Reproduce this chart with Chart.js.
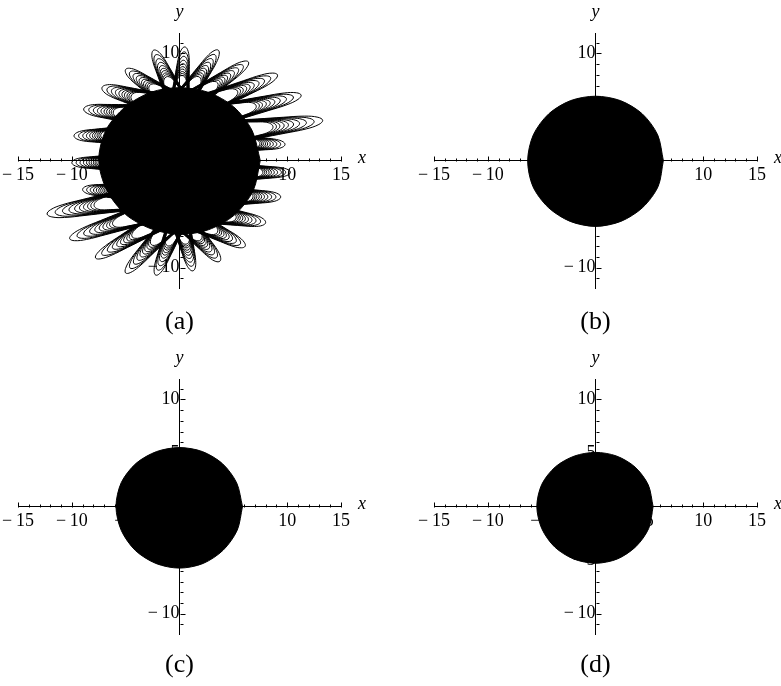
<!DOCTYPE html>
<html>
<head>
<meta charset="utf-8">
<script src="https://cdn.jsdelivr.net/npm/chart.js@4.4.1/dist/chart.umd.min.js"></script>
<style>
  html, body { margin: 0; padding: 0; background: #fff; }
  #wrap { position: relative; width: 781px; height: 686px; overflow: hidden; }
  canvas { position: absolute; }
</style>
</head>
<body>
<div id="wrap">
  <canvas id="pa" width="390" height="343" style="left:0;top:0"></canvas>
  <canvas id="pb" width="391" height="343" style="left:390px;top:0"></canvas>
  <canvas id="pc" width="390" height="343" style="left:0;top:343px"></canvas>
  <canvas id="pd" width="391" height="343" style="left:390px;top:343px"></canvas>
</div>
<script>
// axes
const xRange = [-15, 15];
const yRange = [-11.9, 11.9];
const xTickLabels = [-15, -10, -5, 5, 10, 15];
const yTickLabels = [-10, -5, 5, 10];
const xMinorTicks = [-15, -14, -13, -12, -11, -10, -9, -8, -7, -6, -5, -4, -3, -2, -1, 0,
  1, 2, 3, 4, 5, 6, 7, 8, 9, 10, 11, 12, 13, 14, 15];
const yMinorTicks = [-11, -10, -9, -8, -7, -6, -5, -4, -3, -2, -1, 0,
  1, 2, 3, 4, 5, 6, 7, 8, 9, 10, 11];

// outline of the filled (black) region, radius read every 22.5 degrees
const diskAngles = [0, 22.5, 45, 67.5, 90, 112.5, 135, 157.5, 180, 202.5, 225, 247.5, 270, 292.5, 315, 337.5];
const diskRadiiA = [7.5, 7.3, 7.1, 6.9, 6.8, 6.9, 7.1, 7.4, 7.5, 7.3, 7.1, 6.9, 6.9, 7.0, 7.2, 7.4];
const diskRadiiB = [6.3, 6.25, 6.15, 6.05, 6.0, 6.05, 6.15, 6.25, 6.3, 6.3, 6.2, 6.15, 6.15, 6.15, 6.2, 6.3];
const diskRadiiC = [5.85, 5.75, 5.65, 5.55, 5.5, 5.55, 5.7, 5.85, 5.9, 5.85, 5.8, 5.75, 5.75, 5.75, 5.75, 5.8];
const diskRadiiD = [5.35, 5.3, 5.2, 5.1, 5.05, 5.1, 5.25, 5.4, 5.45, 5.4, 5.35, 5.3, 5.3, 5.3, 5.3, 5.35];

// panel (a): loops sticking out of the disc (tip, where the loop leaves the disc, width)
const petalTips = [
  [13.3, 3.75], [11.3, 6.1], [9.1, 8.0], [6.4, 9.2], [3.6, 10.3], [0.5, 10.6],
  [-2.4, 10.3], [-5.0, 8.5], [-7.2, 6.8], [-8.9, 4.8], [-9.8, 2.3], [-10.0, -0.2],
  [-9.0, -2.7], [-12.3, -5.0], [-10.2, -7.3], [-7.8, -9.1], [-5.0, -10.5], [-2.2, -10.7],
  [1.25, -10.3], [3.75, -9.4], [6.1, -8.0], [8.0, -5.8], [9.4, -3.4], [10.3, -1.1], [9.8, 1.5]
];
const petalBases = [
  [5.34, 2.73], [4.10, 4.38], [2.71, 5.35], [1.47, 5.82], [0.59, 5.97], [0.07, 6.0],
  [-0.39, 5.99], [-1.19, 5.88], [-2.54, 5.44], [-4.17, 4.32], [-5.52, 2.34], [-6.0, -0.2],
  [-5.26, -2.89], [-4.77, -3.64], [-3.32, -5.0], [-1.94, -5.68], [-0.88, -5.94], [-0.31, -5.99],
  [0.18, -6.0], [0.69, -5.96], [1.66, -5.76], [3.29, -5.02], [4.97, -3.36], [5.90, -1.11], [5.78, 1.61]
];
const petalWidths = [1.5, 1.4, 1.4, 1.3, 1.3, 1.2, 1.3, 1.3, 1.4, 1.3, 1.2, 1.1,
  1.1, 1.5, 1.4, 1.3, 1.3, 1.2, 1.2, 1.3, 1.3, 1.3, 1.2, 1.1, 1.1];
// nested copies inside every loop (fraction of the outer reach)
const nestedReach = [1, 0.9, 0.81, 0.73, 0.66, 0.6, 0.55, 0.5, 0.46, 0.42];

Chart.defaults.font.family = '"Liberation Serif", "DejaVu Serif", serif';
Chart.defaults.font.size = 18;
Chart.defaults.color = '#000';

function diskPoints(radii) {
  const pts = diskAngles.map((a, i) => ({
    x: radii[i] * Math.cos(a * Math.PI / 180),
    y: radii[i] * Math.sin(a * Math.PI / 180)
  }));
  pts.push(pts[0]);
  return pts;
}

function diskDataset(radii) {
  return {
    data: diskPoints(radii),
    showLine: true,
    fill: 'shape',
    backgroundColor: '#000',
    borderColor: '#000',
    borderWidth: 1,
    pointRadius: 0,
    tension: 0.3
  };
}

function loopPoints(base, tip, width, reach) {
  const dx = tip[0] - base[0], dy = tip[1] - base[1];
  const len = Math.hypot(dx, dy);
  const ux = dx / len, uy = dy / len;
  const L = len * reach, h = width / 2 * (0.75 + 0.25 * reach);
  const at = (f, s) => ({ x: base[0] + ux * L * f - uy * h * s, y: base[1] + uy * L * f + ux * h * s });
  return [at(0, 1.4), at(0.25, 1.2), at(0.55, 1), at(0.8, 0.8), at(0.95, 0.45), at(1, 0),
    at(0.95, -0.45), at(0.8, -0.8), at(0.55, -1), at(0.25, -1.2), at(0, -1.4)];
}

function loopDatasets() {
  const sets = [];
  petalTips.forEach((tip, i) => {
    nestedReach.forEach(r => {
      sets.push({
        data: loopPoints(petalBases[i], tip, petalWidths[i], r),
        showLine: true,
        fill: false,
        borderColor: '#000',
        borderWidth: 1,
        pointRadius: 0,
        tension: 0.4
      });
    });
  });
  return sets;
}

const tickText = v => (v < 0 ? '\u2212\u2009' + Math.abs(v) : String(v));

const axisDecor = {
  id: 'axisDecor',
  afterDraw(chart, args, opts) {
    const { ctx, scales: { x, y } } = chart;
    const x0 = x.getPixelForValue(0), y0 = y.getPixelForValue(0);
    ctx.save();
    ctx.strokeStyle = '#000';
    ctx.lineWidth = 1;
    ctx.beginPath();
    xMinorTicks.forEach(v => {
      const px = Math.round(x.getPixelForValue(v)) + 0.5;
      const len = v % 5 === 0 ? 5 : 3;
      ctx.moveTo(px, Math.round(y0) + 0.5);
      ctx.lineTo(px, Math.round(y0) + 0.5 - len);
    });
    yMinorTicks.forEach(v => {
      const py = Math.round(y.getPixelForValue(v)) + 0.5;
      const len = v % 5 === 0 ? 5 : 3;
      ctx.moveTo(Math.round(x0) + 0.5, py);
      ctx.lineTo(Math.round(x0) + 0.5 + len, py);
    });
    ctx.stroke();
    ctx.fillStyle = '#000';
    ctx.textAlign = 'center';
    ctx.textBaseline = 'middle';
    ctx.font = 'italic 18px "Liberation Serif", serif';
    ctx.fillText('x', x.right + 21, y0 - 2);
    ctx.fillText('y', x0, y.top - 21);
    ctx.font = '26px "Liberation Serif", serif';
    ctx.fillText(opts.label, x0, 322);
    ctx.restore();
  }
};

function makeChart(id, label, datasets, padding) {
  return new Chart(document.getElementById(id), {
    type: 'scatter',
    data: { datasets },
    plugins: [axisDecor],
    options: {
      responsive: false,
      animation: false,
      layout: { padding },
      plugins: { legend: { display: false }, tooltip: { enabled: false }, axisDecor: { label } },
      scales: {
        x: {
          type: 'linear', min: xRange[0], max: xRange[1],
          position: { y: 0 },
          afterBuildTicks: s => { s.ticks = xTickLabels.map(v => ({ value: v })); },
          afterFit: s => { s.height = 0; s.paddingLeft = 0; s.paddingRight = 0; },
          grid: { display: false, drawTicks: false },
          border: { display: true, color: '#000', width: 1 },
          ticks: { autoSkip: false, maxRotation: 0, padding: 4, callback: v => tickText(v) }
        },
        y: {
          type: 'linear', min: yRange[0], max: yRange[1],
          position: { x: 0 },
          afterBuildTicks: s => { s.ticks = yTickLabels.map(v => ({ value: v })); },
          afterFit: s => { s.width = 0; s.paddingTop = 0; s.paddingBottom = 0; },
          grid: { display: false, drawTicks: false },
          border: { display: true, color: '#000', width: 1 },
          ticks: { autoSkip: false, padding: 9, callback: v => tickText(v) }
        }
      }
    }
  });
}

makeChart('pa', '(a)', [diskDataset(diskRadiiA)].concat(loopDatasets()), { left: 18, right: 49, top: 33, bottom: 55 });
makeChart('pb', '(b)', [diskDataset(diskRadiiB)], { left: 44, right: 24, top: 33, bottom: 55 });
makeChart('pc', '(c)', [diskDataset(diskRadiiC)], { left: 18, right: 49, top: 36, bottom: 52 });
makeChart('pd', '(d)', [diskDataset(diskRadiiD)], { left: 44, right: 24, top: 36, bottom: 52 });
</script>
</body>
</html>
